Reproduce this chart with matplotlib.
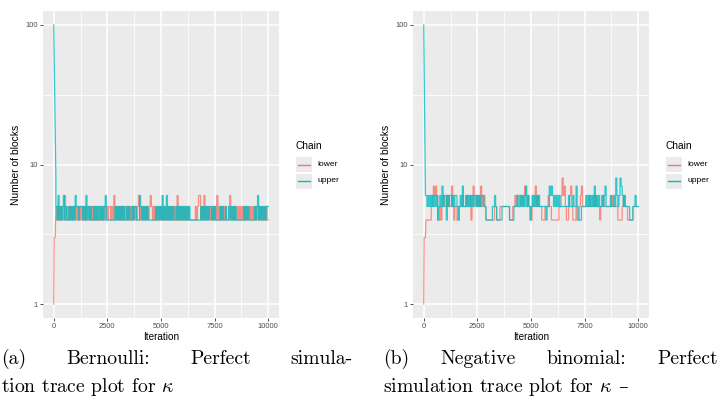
import numpy as np
import matplotlib
matplotlib.use("Agg")
import matplotlib.pyplot as plt
from matplotlib.patches import Rectangle
from matplotlib.lines import Line2D

W, H = 719, 417
BIN = 50          # iterations per character in the body strings
BODY_START = 100  # body strings start at this iteration

chains = ["lower", "upper"]
chain_colors = {"lower": "#F8766D", "upper": "#00BFC4"}

x_ticks = [0, 2500, 5000, 7500, 10000]
x_minor = [1250, 3750, 6250, 8750]
y_ticks = [1, 10, 100]
y_tick_labels = ["1", "10", "100"]

# (a) Bernoulli -- value of each chain, one char per 50 iterations
a_upper_head_iter = [0, 100]
a_upper_head_val = [100, 8]
a_upper_body = "".join([
    "5464545645", "4454545465", "5455545464", "5454454545", "4545456444",
    "4444454545", "4545445454", "4545544465", "4545454444", "4445454546",
    "4546454545", "4454545454", "5454544444", "4444454545", "4545545454",
    "4445454454", "4545454544", "4444454545", "4444454564", "54545455",
])
a_lower_head_iter = [0, 20, 70]
a_lower_head_val = [1, 3, 3]
a_lower_body = "".join([
    "5454545465", "4545454545", "4545454545", "5454545454", "4545454545",
    "5454645454", "5454545454", "5454545645", "4545454565", "4545454545",
    "4545454545", "4546454545", "4545444444", "5456645464", "5454545454",
    "6454545454", "4564545454", "5454545454", "5454545454", "54545454",
])

# (b) Negative binomial
b_upper_head_iter = [0, 80]
b_upper_head_val = [100, 6]
b_upper_body = "".join([
    "6565656565", "6456575664", "6566565665", "4565755656", "5656566565",
    "6566554444", "4455654444", "4555555544", "4455565565", "6567565456",
    "5656565555", "5545576765", "6565655555", "5556555655", "7544455556",
    "5656565756", "5655656755", "5565565865", "6876565555", "44455655",
])
b_lower_head_iter = [0, 10, 20, 80]
b_lower_head_val = [1, 2, 3, 3]
b_lower_body = "".join([
    "4444456767", "6445456556", "5655754554", "4555655565", "5645765656",
    "5765654444", "4444554445", "5555555544", "4556566566", "5675565545",
    "5675655544", "4555655444", "4444556867", "5445675444", "5445675555",
    "5565556565", "5545565555", "5556555554", "4445655544", "44455555",
])

captions = [
    (["(a)", "Bernoulli:", "Perfect", "simula-"], "tion trace plot for $\\kappa$", ""),
    (["(b)", "Negative", "binomial:", "Perfect"], "simulation trace plot for $\\kappa$", "\u2013"),
]


def trace(head_iter, head_val, body):
    xs, ys = list(head_iter), list(head_val)
    for k, ch in enumerate(body):
        t0 = BODY_START + k * BIN
        xs += [t0, t0 + BIN]
        ys += [int(ch), int(ch)]
    return np.array(xs), np.array(ys)


panels = [
    {"lower": trace(a_lower_head_iter, a_lower_head_val, a_lower_body),
     "upper": trace(a_upper_head_iter, a_upper_head_val, a_upper_body)},
    {"lower": trace(b_lower_head_iter, b_lower_head_val, b_lower_body),
     "upper": trace(b_upper_head_iter, b_upper_head_val, b_upper_body)},
]

plt.rcParams["mathtext.fontset"] = "cm"
fig = plt.figure(figsize=(W / 100, H / 100), dpi=100)
fig.patch.set_facecolor("white")

sans = ["Liberation Sans", "DejaVu Sans"]
ax_left_px = [43, 413]
legend_px = [296, 666]

for i, data in enumerate(panels):
    ax = fig.add_axes([ax_left_px[i] / W, 1 - 318 / H, 236 / W, 307 / H])
    ax.set_facecolor("#EBEBEB")
    for c in chains:
        xs, ys = data[c]
        ax.plot(xs, ys, color=chain_colors[c], lw=0.9, alpha=0.8,
                solid_joinstyle="miter")
    ax.set_yscale("log")
    ax.set_xlim(-500, 10500)
    ax.set_ylim(10 ** -0.1, 10 ** 2.1)
    ax.set_xticks(x_ticks)
    ax.set_xticklabels([str(t) for t in x_ticks])
    ax.set_xticks(x_minor, minor=True)
    ax.set_yticks(y_ticks)
    ax.set_yticklabels(y_tick_labels)
    ax.set_yticks([10 ** 0.5, 10 ** 1.5], minor=True)
    ax.yaxis.set_minor_formatter(matplotlib.ticker.NullFormatter())
    ax.grid(True, which="major", color="white", lw=1.1)
    ax.grid(True, which="minor", color="white", lw=0.55)
    ax.set_axisbelow(True)
    for s in ax.spines.values():
        s.set_visible(False)
    ax.tick_params(which="major", length=2.2, width=0.6, color="#333333",
                   labelsize=5.4, labelcolor="#4D4D4D", pad=1.5)
    ax.tick_params(which="minor", length=0)
    for lab in ax.get_xticklabels() + ax.get_yticklabels():
        lab.set_fontfamily(sans)
    ax.set_xlabel("Iteration", fontsize=7.2, family=sans, labelpad=1)
    ax.set_ylabel("Number of blocks", fontsize=7.4, family=sans, labelpad=3)

    # legend, ggplot style
    lx = legend_px[i]
    fig.text(lx / W, 1 - 146 / H, "Chain", fontsize=7.3, family=sans,
             va="center", ha="left")
    for j, c in enumerate(chains):
        top = 157 + j * 16.5
        fig.add_artist(Rectangle((lx / W, 1 - (top + 15) / H), 16 / W, 15 / H,
                                 transform=fig.transFigure,
                                 facecolor="#EBEBEB", edgecolor="none"))
        cy = 1 - (top + 7.5) / H
        fig.add_artist(Line2D([(lx + 2) / W, (lx + 14) / W], [cy, cy],
                              transform=fig.transFigure,
                              color=chain_colors[c], lw=1.0))
        fig.text((lx + 21) / W, cy, c, fontsize=6.1, family=sans,
                 va="center", ha="left")

# captions in a LaTeX-like serif, first line justified
serif = ["cmr10", "DejaVu Serif"]
cap_size = 14.2
cap_x = [[1, 353], [383, 718]]
renderer = fig.canvas.get_renderer()
for i, (words, line2, tail) in enumerate(captions):
    x0, x1 = cap_x[i]
    items = [fig.text(0, 1 - 364 / H, w, fontsize=cap_size, family=serif,
                      va="baseline", ha="left") for w in words]
    widths = [t.get_window_extent(renderer).width for t in items]
    gap = (x1 - x0 - sum(widths)) / (len(words) - 1)
    x = x0
    for t, wd in zip(items, widths):
        t.set_x(x / W)
        x += wd + gap
    t2 = fig.text(x0 / W, 1 - 392 / H, line2, fontsize=cap_size, family=serif,
                  va="baseline", ha="left")
    if tail:
        end = t2.get_window_extent(renderer).x1
        fig.text((end + 6) / W, 1 - 392 / H, tail, fontsize=cap_size * 0.95,
                 family="DejaVu Serif", va="baseline", ha="left")

fig.savefig("out.png", dpi=100)
